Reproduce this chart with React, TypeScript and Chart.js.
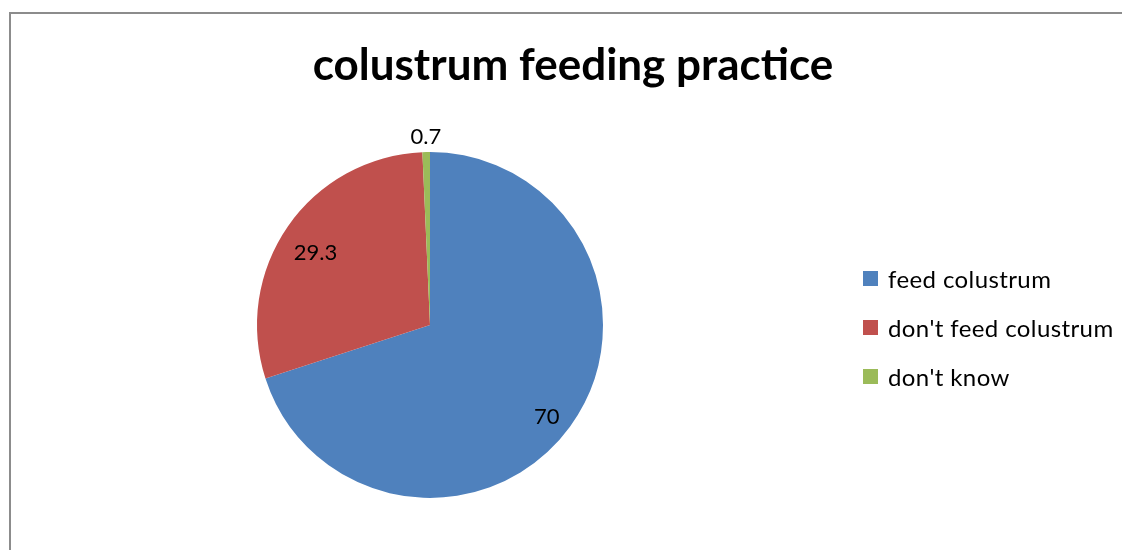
import React, { useEffect, useRef } from "react";
import { Chart, registerables } from "chart.js";

Chart.register(...registerables);

const categories = ["feed colustrum", "don't feed colustrum", "don't know"];
const values = [70, 29.3, 0.7];
const valueLabels = ["70", "29.3", "0.7"];
const colors = ["#4F81BD", "#C0504D", "#9BBB59"];
const titleText = "colustrum feeding practice";

const FONT = "Lato, 'Open Sans', sans-serif";

const overlayPlugin = {
  id: "overlay",
  afterDraw(chart: any) {
    const ctx = chart.ctx;
    ctx.save();
    // title
    ctx.fillStyle = "#000";
    ctx.font = `bold 44px ${FONT}`;
    ctx.textAlign = "center";
    ctx.textBaseline = "alphabetic";
    ctx.fillText(titleText, 573, 80);

    // data labels
    const meta = chart.getDatasetMeta(0);
    ctx.font = `22px ${FONT}`;
    ctx.textBaseline = "middle";
    meta.data.forEach((arc: any, i: number) => {
      const p = arc.getProps(["x", "y", "startAngle", "endAngle", "outerRadius"], true);
      const mid = (p.startAngle + p.endAngle) / 2;
      const frac = (p.endAngle - p.startAngle) / (Math.PI * 2);
      const outside = frac < 0.05;
      const r = outside ? p.outerRadius + 16 : p.outerRadius * 0.82;
      ctx.fillText(valueLabels[i], p.x + Math.cos(mid) * r + (outside ? 0 : 2), p.y + Math.sin(mid) * r + (outside ? 1 : 9));
    });

    // legend
    ctx.textAlign = "left";
    ctx.font = `24px ${FONT}`;
    try {
      ctx.letterSpacing = "0.4px";
    } catch (e) {}
    chart.data.labels.forEach((lab: string, i: number) => {
      const y = 278 + i * 49;
      ctx.fillStyle = colors[i];
      ctx.fillRect(863, y - 7, 15, 15);
      ctx.fillStyle = "#000";
      ctx.fillText(lab, 888, y + 2);
    });
    ctx.restore();
  },
};

export default function App() {
  const ref = useRef<HTMLCanvasElement>(null);
  useEffect(() => {
    const chart = new Chart(ref.current as HTMLCanvasElement, {
      type: "pie",
      data: {
        labels: categories,
        datasets: [
          {
            data: values,
            backgroundColor: colors,
            borderWidth: 0,
          },
        ],
      },
      options: {
        animation: false,
        responsive: false,
        maintainAspectRatio: false,
        layout: { padding: { left: 257, right: 519, top: 152, bottom: 52 } },
        plugins: {
          legend: { display: false },
          title: { display: false },
          tooltip: { enabled: false },
        },
      },
      plugins: [overlayPlugin],
    });
    return () => chart.destroy();
  }, []);
  return (
    <div style={{ position: "fixed", left: 0, top: 0, width: 1122, height: 550, background: "#fff", overflow: "hidden" }}>
      <div
        style={{
          position: "absolute",
          left: 9,
          top: 12,
          width: 1200,
          height: 600,
          border: "2px solid #8c8c8c",
          boxSizing: "border-box",
        }}
      />
      <canvas ref={ref} width={1122} height={550} style={{ position: "absolute", left: 0, top: 0, width: 1122, height: 550 }} />
    </div>
  );
}
